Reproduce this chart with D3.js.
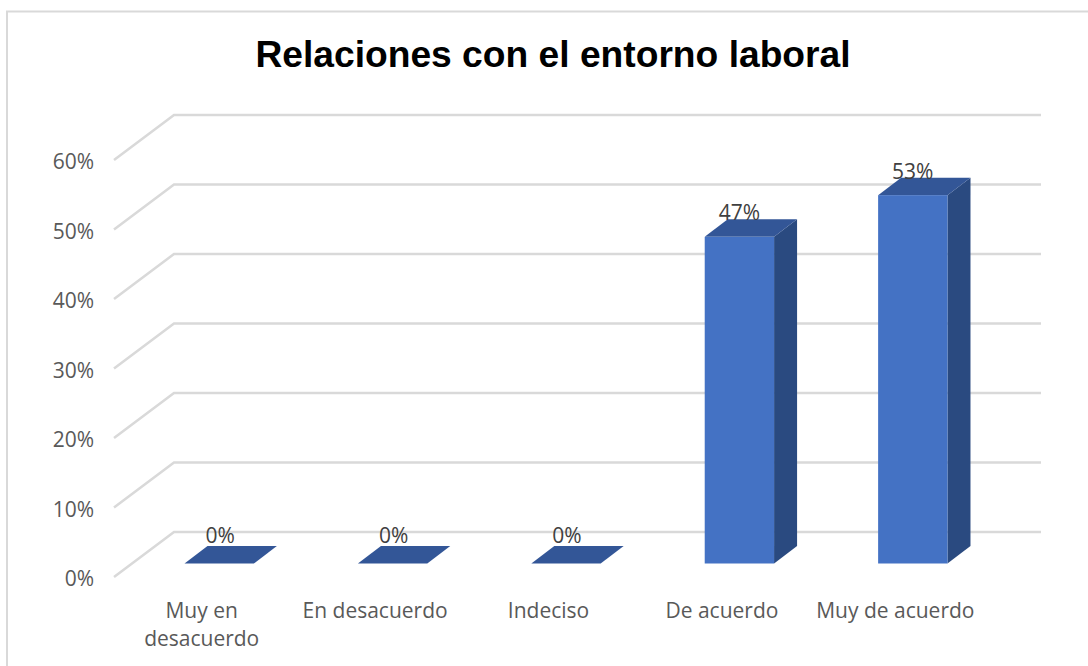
<!DOCTYPE html>
<html>
<head>
<meta charset="utf-8">
<script src="https://cdn.jsdelivr.net/npm/d3@7"></script>
<style>
  html, body { margin: 0; padding: 0; background: #fff; }
  svg { display: block; }
  text { font-family: "Open Sans", sans-serif; }
</style>
</head>
<body>
<svg id="graph"></svg>
<script>
const categories = [['Muy en', 'desacuerdo'], ['En desacuerdo'], ['Indeciso'], ['De acuerdo'], ['Muy de acuerdo']];
const values = [0, 0, 0, 47, 53];
const yTicks = [0, 10, 20, 30, 40, 50, 60];
const titleText = 'Relaciones con el entorno laboral';

const width = 1088;
const height = 666;
// front plane of the 3D box, the back wall sits up and to the right of it
const plot = { left: 114, right: 981, top: 160, bottom: 577 };
const wall = { dx: 60, dy: -45 };
const barShift = { dx: 18.5, dy: -13.5 };
const barDepth = { dx: 23, dy: -17.5 };

const svg = d3.select('#graph')
  .attr('width', width)
  .attr('height', height);

const x = d3.scaleBand()
  .domain(d3.range(categories.length))
  .range([plot.left, plot.right])
  .paddingInner(0.6)
  .paddingOuter(0.3);

const band = d3.scaleBand()
  .domain(d3.range(categories.length))
  .range([plot.left, plot.right]);

const y = d3.scaleLinear()
  .domain([0, 60])
  .range([plot.bottom, plot.top]);

// chart frame
svg.append('path')
  .attr('d', d3.line()([[7, height], [7, 11.5], [width, 11.5]]))
  .attr('fill', 'none')
  .attr('stroke', '#d9d9d9')
  .attr('stroke-width', 2);

svg.append('text')
  .attr('x', 553)
  .attr('y', 67)
  .attr('text-anchor', 'middle')
  .style('font-family', '"Liberation Sans", Arial, sans-serif')
  .style('font-weight', 700)
  .style('font-size', '37.2px')
  .attr('fill', '#000')
  .text(titleText);

// gridlines: side wall + back wall
svg.append('g').selectAll('path')
  .data(yTicks)
  .enter().append('path')
    .attr('d', d => d3.line()([
      [plot.left, y(d)],
      [plot.left + wall.dx, y(d) + wall.dy],
      [plot.right + wall.dx, y(d) + wall.dy],
    ]))
    .attr('fill', 'none')
    .attr('stroke', '#d9d9d9')
    .attr('stroke-width', 2.5);

const yAxis = svg.append('g')
  .attr('transform', `translate(${plot.left},2)`)
  .call(d3.axisLeft(y).tickValues(yTicks).tickSize(0).tickPadding(20).tickFormat(d => `${d}%`));
yAxis.select('.domain').remove();
yAxis.selectAll('text')
  .attr('fill', '#595959')
  .style('font-size', '21px');

const bars = svg.append('g').selectAll('g')
  .data(values)
  .enter().append('g')
    .attr('transform', `translate(${barShift.dx},${barShift.dy})`);

const x0 = (d, i) => x(i);
const x1 = (d, i) => x(i) + x.bandwidth();

bars.append('path')
  .attr('fill', '#2a4a80')
  .attr('d', (d, i) => d3.line()([
    [x1(d, i), y(d)],
    [x1(d, i) + barDepth.dx, y(d) + barDepth.dy],
    [x1(d, i) + barDepth.dx, y(0) + barDepth.dy],
    [x1(d, i), y(0)],
  ]) + 'Z');

bars.append('path')
  .attr('fill', '#335697')
  .attr('d', (d, i) => d3.line()([
    [x0(d, i), y(d)],
    [x0(d, i) + barDepth.dx, y(d) + barDepth.dy],
    [x1(d, i) + barDepth.dx, y(d) + barDepth.dy],
    [x1(d, i), y(d)],
  ]) + 'Z');

bars.append('rect')
  .attr('fill', '#4472c4')
  .attr('x', (d, i) => x(i))
  .attr('y', d => y(d))
  .attr('width', x.bandwidth())
  .attr('height', d => y(0) - y(d));

// data labels, the empty bars have theirs a bit higher
svg.append('g').selectAll('text')
  .data(values)
  .enter().append('text')
    .attr('x', (d, i) => band(i) + band.bandwidth() / 2 + (d ? 18.5 : 19.5))
    .attr('y', d => y(d) - (d ? 30 : 34))
    .attr('text-anchor', 'middle')
    .attr('fill', '#404040')
    .style('font-size', '21px')
    .text(d => `${d}%`);

// category labels
const labels = svg.append('g').selectAll('text')
  .data(categories)
  .enter().append('text')
    .attr('text-anchor', 'middle')
    .attr('fill', '#595959')
    .style('font-size', '21px');

labels.selectAll('tspan')
  .data((d, i) => d.map((line, j) => ({ line, j, i })))
  .enter().append('tspan')
    .attr('x', d => band(d.i) + band.bandwidth() / 2 + 1)
    .attr('y', d => 617.5 + d.j * 28)
    .text(d => d.line);
</script>
</body>
</html>
